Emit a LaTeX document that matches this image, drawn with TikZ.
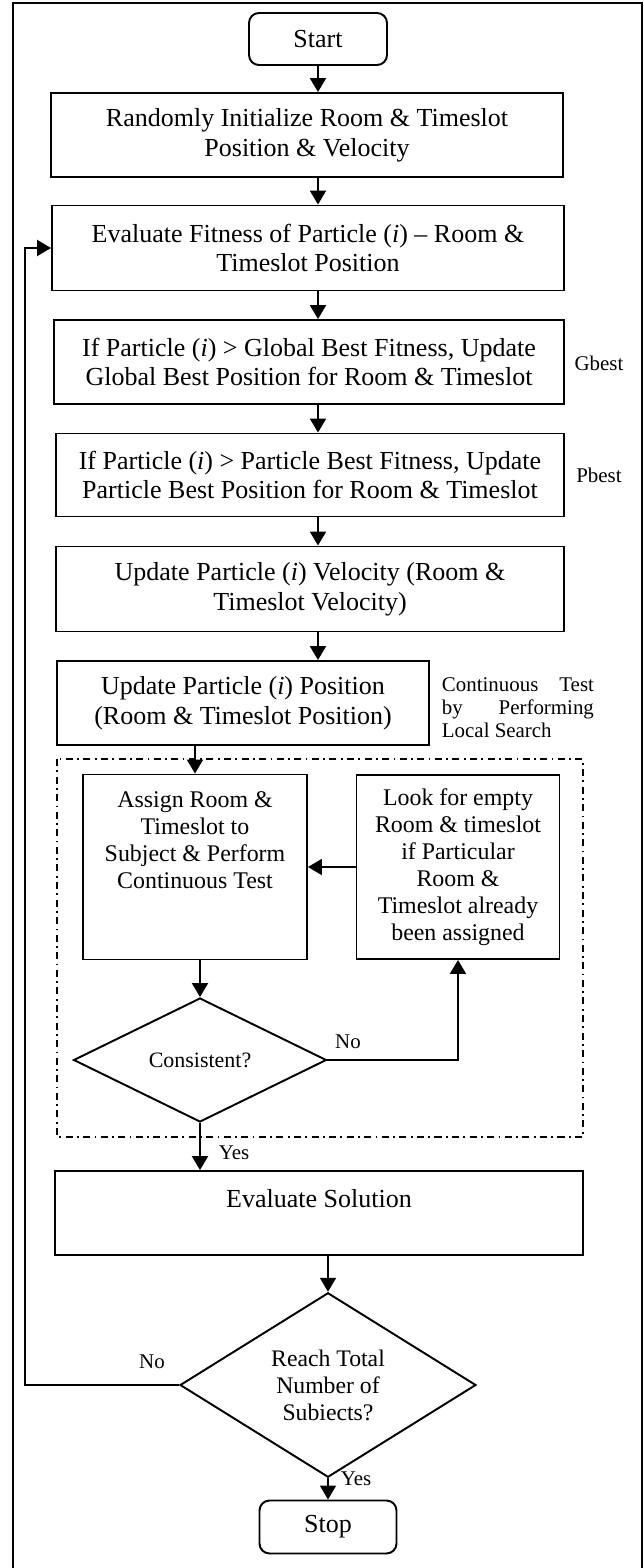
\documentclass[tikz,border=0pt]{standalone}
\usepackage{fontspec}
\setmainfont{Liberation Serif}
\usepackage{tikz}
\usetikzlibrary{arrows.meta}
\usetikzlibrary{shapes.geometric}

\tikzset{
    stepbox/.style={draw, line width=1.1pt, align=center, inner sep=0pt,
        font=\fontsize{14.8}{17}\selectfont},
    smallbox/.style={stepbox, font=\fontsize{13.6}{15.4}\selectfont},
    endbox/.style={stepbox, rounded corners=0.2cm},
    decision/.style={draw, diamond, line width=1.1pt, align=center, inner sep=0pt},
    note/.style={font=\fontsize{11.9}{13}\selectfont},
}

\begin{document}
\begin{tikzpicture}[x=0.02cm, y=-0.02cm, line width=1.1pt,
    >={Triangle[length=0.28cm, width=0.32cm]}]
    \useasboundingbox (0,0) rectangle (644,1568);
    % page frame (open at the bottom)
    \draw (13,1570) -- (13,3) -- (642,3) -- (642,1570);
    % main column
    \node [endbox, minimum width=2.76cm, minimum height=1.04cm] (start) at (318, 39) {Start};
    \node [stepbox, minimum width=10.24cm, minimum height=1.68cm] (init) at (307, 135)
        {Randomly Initialize Room \& Timeslot\\Position \& Velocity};
    \node [stepbox, minimum width=10.24cm, minimum height=1.7cm] (evalfit) at (308, 248)
        {Evaluate Fitness of Particle (\textit{i}) -- Room \&\\Timeslot Position};
    \node [stepbox, minimum width=10.2cm, minimum height=1.68cm] (gbest) at (309, 362)
        {If Particle (\textit{i}) \textgreater{} Global Best Fitness, Update\\Global Best Position for Room \& Timeslot};
    \node [stepbox, minimum width=10.16cm, minimum height=1.66cm] (pbest) at (310, 475)
        {If Particle (\textit{i}) \textgreater{} Particle Best Fitness, Update\\Particle Best Position for Room \& Timeslot};
    \node [stepbox, minimum width=10.16cm, minimum height=1.7cm] (velo) at (310, 589)
        {Update Particle (\textit{i}) Velocity (Room \&\\Timeslot Velocity)};
    \node [stepbox, minimum width=7.44cm, minimum height=1.68cm] (posn) at (243, 703)
        {Update Particle (\textit{i}) Position\\(Room \& Timeslot Position)};
    % side notes
    \node [note] (gnote) at (599, 363) {Gbest};
    \node [note] (pnote) at (599, 475) {Pbest};
    \node [note, text width=3.04cm, align=justify, inner sep=0pt, anchor=north west] (lsnote) at (441, 677)
        {Continuous Test by Performing Local Search};
    % local search group
    \draw [dash pattern=on 4pt off 2.5pt on 1pt off 2.5pt, line width=0.9pt] (57,759) rectangle (583,1137);
    \node [smallbox, minimum width=4.48cm, minimum height=3.7cm] (assign) at (195, 867)
        {Assign Room \&\\Timeslot to\\Subject \& Perform\\Continuous Test\\~\\~};
    \node [smallbox, minimum width=4.06cm, minimum height=3.68cm] (look) at (458, 867)
        {Look for empty\\Room \& timeslot\\if Particular\\Room \&\\Timeslot already\\been assigned};
    \node [decision, minimum width=5.06cm, minimum height=2.48cm,
        font=\fontsize{12.5}{14}\selectfont] (consist) at (200, 1060) {Consistent?};
    % after the local search
    \node [stepbox, minimum width=10.56cm, minimum height=1.68cm] (evalsol) at (319, 1213)
        {Evaluate Solution\\~};
    \node [decision, minimum width=5.92cm, minimum height=3.4cm,
        font=\fontsize{13.5}{15.4}\selectfont] (reach) at (328, 1385)
        {Reach Total\\Number of\\Subiects?};
    \node [endbox, minimum width=2.74cm, minimum height=1.06cm] (stop) at (328, 1527) {Stop};
    \coordinate (back) at (25, 1385);
    % arrows
    \draw [->] (start.south) to (start.south |- init.north);
    \draw [->] (init.south -| start) to (evalfit.north -| start);
    \draw [->] (evalfit.south -| start) to (gbest.north -| start);
    \draw [->] (gbest.south -| start) to (pbest.north -| start);
    \draw [->] (pbest.south -| start) to (velo.north -| start);
    \draw [->] (velo.south -| start) to (posn.north -| start);
    \draw [->] (posn.south -| assign) to (assign.north);
    \draw [->] (look.west) to (look.west -| assign.east);
    \draw [->] (assign.south -| consist) to (consist.north);
    \draw [->] (consist.east) -| (look.south);
    \draw [->] (consist.south) to (consist.south |- evalsol.north);
    \draw [->] (evalsol.south -| reach) to (reach.north);
    \draw [->] (reach.south) to (stop.north);
    \draw [->] (reach.west) to (back) |- (evalfit.west);
    % branch labels
    \node [note] (no1) at (348, 1042) {No};
    \node [note] (yes1) at (234, 1153) {Yes};
    \node [note] (no2) at (152, 1362) {No};
    \node [note] (yes2) at (356, 1479) {Yes};
\end{tikzpicture}
\end{document}
